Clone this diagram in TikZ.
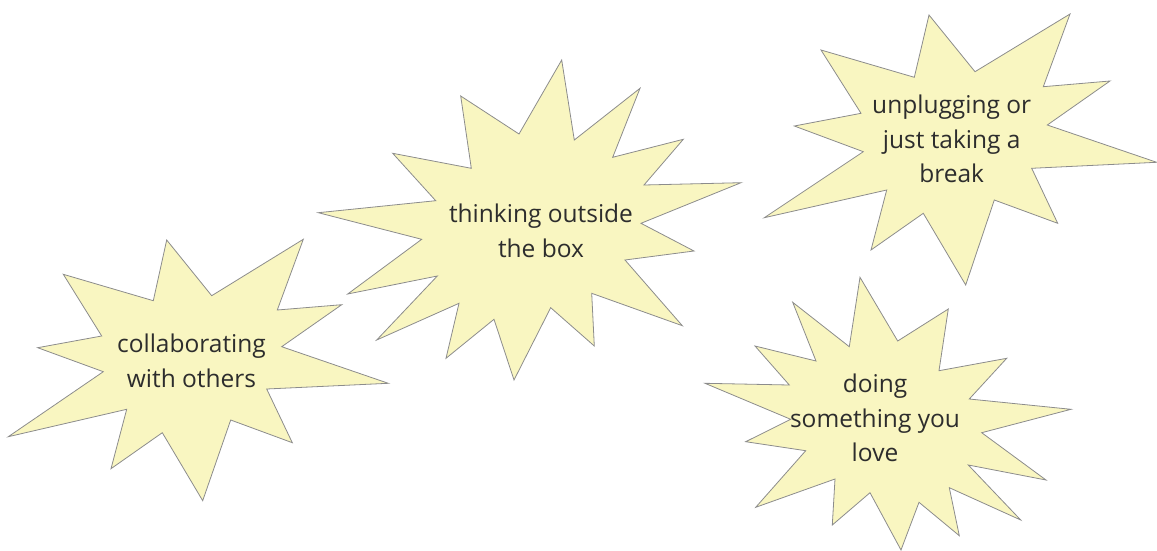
\documentclass[tikz,border=0pt]{standalone}
\usepackage{fontspec}
\setmainfont{Open Sans}
\usepackage{xcolor}
\definecolor{burstfill}{RGB}{249,246,193}
\definecolor{burstline}{RGB}{140,140,140}
\definecolor{bursttext}{RGB}{45,45,45}

\begin{document}
\begin{tikzpicture}[x=1pt, y=-1pt,
    burst/.style={draw=burstline, fill=burstfill, line width=0.8pt, line join=miter},
    burstlabel/.style={align=center, text=bursttext, font=\fontsize{24.5}{34.5}\selectfont, inner sep=0pt}]
    \useasboundingbox (0,0) rectangle (1157,551);

    % collaborating
    \draw[burst] (166.7,240) -- (211.7,295.7) -- (303.3,239.3) -- (277.3,310) -- (341.7,304.7)
      -- (281.7,346.7) -- (388.3,383.3) -- (266.7,389) -- (292.3,442.7) -- (230.7,420)
      -- (202.7,500.7) -- (162.3,432.7) -- (111,468.7) -- (126.7,409.3) -- (8.3,436.7)
      -- (103.3,371.7) -- (37.7,347.7) -- (101.7,336) -- (63.3,274.3) -- (153.3,300.7) -- cycle;
    \node[burstlabel] (collab) at (191.5,361) {collaborating\\with others};

    % thinking
    \draw[burst] (561.7,60) -- (574.3,140) -- (640,88.3) -- (612.7,157.3) -- (683.3,139.3)
      -- (644,185) -- (741,182.7) -- (641,223.3) -- (694,251) -- (625,260)
      -- (682.3,325.7) -- (591.7,293.3) -- (594.3,346) -- (550.7,307.7) -- (514,380)
      -- (494,319.3) -- (446,358.3) -- (459,303.3) -- (376.7,340) -- (437.3,276)
      -- (347.7,294) -- (421.7,239.3) -- (318.3,212.7) -- (435.7,200.7) -- (392.7,153.3)
      -- (471.3,168.3) -- (460.7,96) -- (519,134) -- cycle;
    \node[burstlabel] (thinking) at (541,231) {thinking outside\\the box};

    % unplugging
    \draw[burst] (929,15) -- (975,71.7) -- (1070,14) -- (1043.3,86.7) -- (1110,81)
      -- (1047.3,125) -- (1156.7,162.3) -- (1031.7,168.3) -- (1057.7,223.3) -- (994.3,200)
      -- (965.7,285) -- (923.3,213.3) -- (871,250) -- (886.7,190) -- (764.3,217.7)
      -- (863.3,151.7) -- (794.3,126) -- (861,113.3) -- (821,50) -- (914.3,77.3) -- cycle;
    \node[burstlabel] (unplug) at (951.7,139) {unplugging or\\just taking a\\break};

    % doing
    \draw[burst] (860,277.3) -- (897.7,341) -- (948.3,309) -- (939,370.7) -- (1006.7,358.3)
      -- (969.3,399) -- (1071,409.3) -- (981.7,432.7) -- (1046,480) -- (968.3,465)
      -- (1020.7,520) -- (949.3,487.7) -- (959.3,535.7) -- (919,502.3) -- (901,550)
      -- (870,492.7) -- (832.3,525) -- (835,479) -- (755.7,507.3) -- (805.7,450.7)
      -- (745.7,441.7) -- (790.7,419.3) -- (705,383.3) -- (789.3,385) -- (755,346)
      -- (816,361) -- (792.7,302.3) -- (849.3,346.7) -- cycle;
    \node[burstlabel] (doing) at (875,418) {doing\\something you\\love};
\end{tikzpicture}
\end{document}
